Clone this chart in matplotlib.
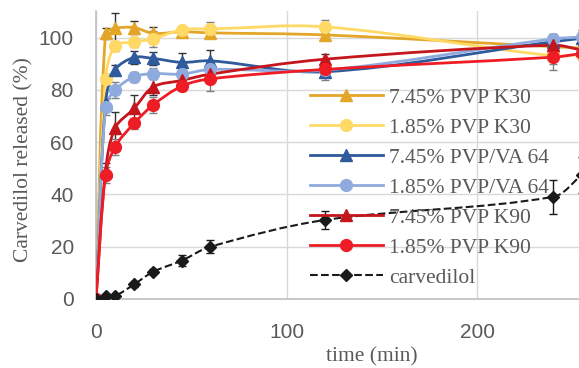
import numpy as np
import matplotlib
matplotlib.use("Agg")
import matplotlib.pyplot as plt
from matplotlib.path import Path
from matplotlib.patches import PathPatch
from matplotlib.lines import Line2D

# sampling times (min)
time = [0, 5, 10, 20, 30, 45, 60, 120, 240, 255]

k30_745 = [0, 101.6, 103.5, 103.8, 101.6, 102.2, 101.8, 101.0, 96.5, 96.0]
k30_745_err = [0, 2.0, 6.0, 2.5, 2.5, 1.0, 1.5, 1.5, 2.0, 2.0]

k30_185 = [0, 84.0, 96.8, 98.3, 99.5, 103.0, 103.3, 104.1, 93.0, 93.5]
k30_185_err = [0, 2.0, 2.0, 2.0, 3.0, 1.0, 2.5, 2.5, 3.0, 2.0]

va64_745 = [0, 75.0, 87.6, 92.4, 92.0, 90.5, 91.1, 86.9, 98.4, 99.7]
va64_745_err = [0, 2.0, 2.0, 2.5, 2.5, 3.5, 4.0, 2.0, 3.0, 3.0]

va64_185 = [0, 73.4, 79.9, 85.0, 86.2, 86.0, 87.8, 87.5, 99.5, 100.2]
va64_185_err = [0, 3.0, 3.0, 2.0, 2.0, 2.0, 3.0, 2.0, 2.0, 2.0]

k90_745 = [0, 49.0, 65.4, 72.9, 81.1, 83.6, 86.0, 91.7, 97.1, 95.2]
k90_745_err = [0, 3.0, 6.0, 5.0, 3.0, 2.0, 3.0, 2.0, 3.0, 2.0]

k90_185 = [0, 47.4, 58.2, 67.2, 74.2, 81.4, 84.2, 87.8, 92.5, 93.9]
k90_185_err = [0, 3.0, 3.0, 2.0, 3.0, 2.0, 4.5, 4.0, 5.0, 2.0]

carv = [0, 1.1, 1.2, 5.6, 10.4, 14.7, 20.0, 30.2, 39.1, 47.5]
carv_err = [0, 0.5, 0.5, 1.0, 1.0, 2.0, 2.5, 3.5, 6.5, 7.0]

series = [
    ("7.45% PVP K30", k30_745, k30_745_err, "#E3A629", "^", "-", "#333333"),
    ("1.85% PVP K30", k30_185, k30_185_err, "#FFD966", "o", "-", "#7F7F7F"),
    ("7.45% PVP/VA 64", va64_745, va64_745_err, "#2F5A9C", "^", "-", "#333333"),
    ("1.85% PVP/VA 64", va64_185, va64_185_err, "#8FAADC", "o", "-", "#7F7F7F"),
    ("7.45% PVP K90", k90_745, k90_745_err, "#C4161C", "^", "-", "#333333"),
    ("1.85% PVP K90", k90_185, k90_185_err, "#EE1C24", "o", "-", "#7F7F7F"),
    ("carvedilol", carv, carv_err, "#1A1A1A", "D", "--", "#1A1A1A"),
]

TXT = "#595959"
SERIF = ["Liberation Serif", "DejaVu Serif"]
SANS = ["Liberation Sans", "DejaVu Sans"]


def smooth_path(ax, xs, ys):
    """Excel-like smoothed line: bezier through the points, built in pixel space."""
    pts = ax.transData.transform(np.column_stack([xs, ys]))
    n = len(pts)
    verts = [pts[0]]
    codes = [Path.MOVETO]
    for i in range(n - 1):
        p0 = pts[max(i - 1, 0)]
        p1 = pts[i]
        p2 = pts[i + 1]
        p3 = pts[min(i + 2, n - 1)]
        d0 = np.hypot(*(p1 - p0))
        d1 = np.hypot(*(p2 - p1))
        d2 = np.hypot(*(p3 - p2))
        c1 = p1 + (p2 - p0) / 3.0 * (d1 / (d0 + d1) if d0 > 0 else 1.0)
        c2 = p2 - (p3 - p1) / 3.0 * (d1 / (d1 + d2) if d2 > 0 else 1.0)
        verts += [c1, c2, p2]
        codes += [Path.CURVE4] * 3
    verts = ax.transData.inverted().transform(np.array(verts))
    return Path(verts, codes)


fig = plt.figure(figsize=(5.79, 3.68), dpi=100)
ax = fig.add_axes([96 / 579, 69 / 368, 1 - 96 / 579, (299 - 11.4) / 368])
ax.set_xlim(0, 253.5)
ax.set_ylim(0, 110)
ax.set_xticks([0, 100, 200])
ax.set_yticks([0, 20, 40, 60, 80, 100])
ax.grid(True, color="#D9D9D9", linewidth=1.0)
ax.set_axisbelow(True)
for side in ["top", "right"]:
    ax.spines[side].set_visible(False)
for side in ["left", "bottom"]:
    ax.spines[side].set_color("#BFBFBF")
    ax.spines[side].set_linewidth(1.2)
ax.tick_params(length=0, labelsize=15, labelcolor=TXT)
ax.tick_params(axis="x", pad=17)
ax.tick_params(axis="y", pad=16)
for lab in ax.get_xticklabels() + ax.get_yticklabels():
    lab.set_family(SANS)

handles = []
for label, vals, err, col, mk, ls, ecol in series:
    ms = 6 if mk == "D" else 8.5
    lw = 1.5 if ls == "--" else 2.0
    ax.errorbar(time, vals, yerr=err, fmt="none", ecolor=ecol, elinewidth=1.0,
                capsize=3, capthick=1.0, zorder=3)
    patch = PathPatch(smooth_path(ax, time, vals), fill=False, edgecolor=col,
                      linewidth=lw, linestyle=ls, zorder=4)
    ax.add_patch(patch)
    ax.plot(time, vals, linestyle="none", marker=mk, markersize=ms,
            color=col, markeredgecolor=col, zorder=5)
    handles.append(Line2D([], [], color=col, linestyle=ls, linewidth=lw,
                          marker=mk, markersize=ms))

leg = fig.legend(handles, [s[0] for s in series], loc="upper left",
                 bbox_to_anchor=(299 / 579, 1 - 77 / 368), frameon=False,
                 prop={"family": SERIF, "size": 15.5}, handlelength=3.4,
                 handletextpad=0.3, labelspacing=0.46, borderpad=0)
for t in leg.get_texts():
    t.set_color(TXT)

fig.text(372 / 579, 1 - 357 / 368, "time (min)", ha="center", va="center",
         family=SERIF, fontsize=15.5, color=TXT)
fig.text(24 / 579, 1 - 160 / 368, "Carvedilol released (%)", ha="center",
         va="center", rotation=90, family=SERIF, fontsize=15.5, color=TXT)

fig.savefig("out.png", dpi=100)
